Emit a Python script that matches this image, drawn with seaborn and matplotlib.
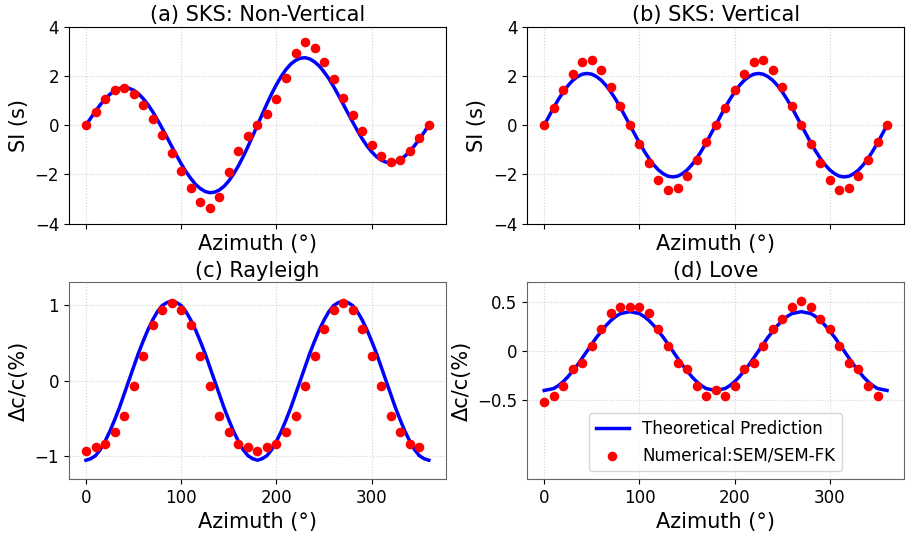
import matplotlib
matplotlib.use('Agg')
import matplotlib.pyplot as plt
import seaborn as sns
import pandas as pd

# Azimuths (deg)
az_curve = list(range(0, 361, 5))
az_sks = list(range(0, 361, 10))
az_surf = list(range(0, 351, 10))

# (a) SKS non-vertical
sks_nv_theory = [0.00, 0.29, 0.57, 0.83, 1.06, 1.25, 1.40, 1.49, 1.53, 1.50, 1.42, 1.28, 1.08,
                 0.84, 0.55, 0.22, -0.13, -0.49, -0.86, -1.22, -1.57, -1.89, -2.16, -2.40, -2.57,
                 -2.69, -2.74, -2.72, -2.63, -2.48, -2.26, -1.98, -1.65, -1.28, -0.87, -0.44, 0.00,
                 0.44, 0.87, 1.28, 1.65, 1.98, 2.26, 2.48, 2.63, 2.72, 2.74, 2.69, 2.57,
                 2.40, 2.16, 1.89, 1.57, 1.22, 0.86, 0.49, 0.13, -0.22, -0.55, -0.84, -1.08,
                 -1.28, -1.42, -1.50, -1.53, -1.49, -1.40, -1.25, -1.06, -0.83, -0.57, -0.29, 0.00]
sks_nv_sem = [0.0, 0.55, 1.06, 1.44, 1.51, 1.28, 0.82, 0.26, -0.39, -1.11, -1.85, -2.56, -3.13,
              -3.36, -2.91, -1.91, -1.05, -0.44, 0.01, 0.44, 1.05, 1.93, 2.92, 3.38, 3.14, 2.57,
              1.87, 1.12, 0.40, -0.24, -0.82, -1.27, -1.51, -1.42, -1.05, -0.53, 0.0]

# (b) SKS vertical
sks_v_theory = [0.00, 0.36, 0.72, 1.05, 1.35, 1.61, 1.82, 1.97, 2.07, 2.10, 2.07, 1.97, 1.82,
                1.61, 1.35, 1.05, 0.72, 0.36, 0.00,
                -0.36, -0.72, -1.05, -1.35, -1.61, -1.82, -1.97, -2.07, -2.10, -2.07, -1.97,
                -1.82, -1.61, -1.35, -1.05, -0.72, -0.36, 0.00,
                0.36, 0.72, 1.05, 1.35, 1.61, 1.82, 1.97, 2.07, 2.10, 2.07, 1.97, 1.82,
                1.61, 1.35, 1.05, 0.72, 0.36, 0.00,
                -0.36, -0.72, -1.05, -1.35, -1.61, -1.82, -1.97, -2.07, -2.10, -2.07, -1.97,
                -1.82, -1.61, -1.35, -1.05, -0.72, -0.36, 0.00]
sks_v_sem = [0.0, 0.70, 1.41, 2.09, 2.56, 2.63, 2.23, 1.54, 0.78, 0.0, -0.78, -1.54, -2.23,
             -2.62, -2.55, -2.07, -1.41, -0.70, 0.0, 0.70, 1.41, 2.09, 2.56, 2.63, 2.23, 1.54,
             0.78, 0.0, -0.78, -1.54, -2.23, -2.62, -2.55, -2.07, -1.41, -0.70, 0.0]

# (c) Rayleigh
ray_theory = [-1.05, -1.03, -0.99, -0.91, -0.80, -0.67, -0.52, -0.36, -0.18, 0.00, 0.18, 0.36,
              0.52, 0.67, 0.80, 0.91, 0.99, 1.03, 1.05,
              1.03, 0.99, 0.91, 0.80, 0.67, 0.52, 0.36, 0.18, 0.00, -0.18, -0.36, -0.52, -0.67,
              -0.80, -0.91, -0.99, -1.03, -1.05,
              -1.03, -0.99, -0.91, -0.80, -0.67, -0.52, -0.36, -0.18, 0.00, 0.18, 0.36,
              0.52, 0.67, 0.80, 0.91, 0.99, 1.03, 1.05,
              1.03, 0.99, 0.91, 0.80, 0.67, 0.52, 0.36, 0.18, 0.00, -0.18, -0.36, -0.52, -0.67,
              -0.80, -0.91, -0.99, -1.03, -1.05]
ray_sem = [-0.93, -0.87, -0.83, -0.68, -0.47, -0.07, 0.33, 0.73, 0.93, 1.03, 0.93, 0.73, 0.33,
           -0.07, -0.47, -0.68, -0.83, -0.87, -0.93, -0.87, -0.83, -0.68, -0.47, -0.07, 0.33,
           0.68, 0.93, 1.03, 0.93, 0.68, 0.33, -0.07, -0.47, -0.68, -0.83, -0.87]

# (d) Love
love_theory = [-0.40, -0.39, -0.38, -0.35, -0.31, -0.26, -0.20, -0.14, -0.07, 0.00, 0.07, 0.14,
               0.20, 0.26, 0.31, 0.35, 0.38, 0.39, 0.40,
               0.39, 0.38, 0.35, 0.31, 0.26, 0.20, 0.14, 0.07, 0.00, -0.07, -0.14, -0.20, -0.26,
               -0.31, -0.35, -0.38, -0.39, -0.40,
               -0.39, -0.38, -0.35, -0.31, -0.26, -0.20, -0.14, -0.07, 0.00, 0.07, 0.14,
               0.20, 0.26, 0.31, 0.35, 0.38, 0.39, 0.40,
               0.39, 0.38, 0.35, 0.31, 0.26, 0.20, 0.14, 0.07, 0.00, -0.07, -0.14, -0.20, -0.26,
               -0.31, -0.35, -0.38, -0.39, -0.40]
love_sem = [-0.52, -0.46, -0.35, -0.18, -0.12, 0.05, 0.22, 0.39, 0.45, 0.45, 0.45, 0.39, 0.22,
            0.05, -0.12, -0.18, -0.35, -0.46, -0.40, -0.46, -0.35, -0.18, -0.12, 0.05, 0.22,
            0.33, 0.45, 0.51, 0.45, 0.33, 0.22, 0.05, -0.12, -0.18, -0.35, -0.46]

titles = ['(a) SKS: Non-Vertical', '(b) SKS: Vertical', '(c) Rayleigh', '(d) Love']
ylabels = ['SI (s)', 'SI (s)', 'Δc/c(%)', 'Δc/c(%)']

panels = [
    (sks_nv_theory, az_sks, sks_nv_sem),
    (sks_v_theory, az_sks, sks_v_sem),
    (ray_theory, az_surf, ray_sem),
    (love_theory, az_surf, love_sem),
]

fig, axes = plt.subplots(2, 2, figsize=(9.06, 5.33), dpi=100)
fig.subplots_adjust(left=0.076, right=0.998, top=0.950, bottom=0.101, wspace=0.215, hspace=0.296)

for i, ax in enumerate(axes.flat):
    theory, az_pts, sem = panels[i]
    curve = pd.DataFrame({'az': az_curve, 'val': theory})
    pts = pd.DataFrame({'az': az_pts, 'val': sem})
    sns.lineplot(data=curve, x='az', y='val', ax=ax, color='blue', linewidth=2.5,
                 sort=False, label='Theoretical Prediction', zorder=2)
    sns.scatterplot(data=pts, x='az', y='val', ax=ax, color='red', s=48, linewidth=0,
                    label='Numerical:SEM/SEM-FK', zorder=3)
    ax.set_title(titles[i], fontsize=15, pad=4)
    ax.set_ylabel(ylabels[i], fontsize=15)
    ax.set_xlabel('Azimuth (°)', fontsize=15)
    ax.tick_params(labelsize=12)
    ax.set_xticks([0, 100, 200, 300])
    ax.grid(True, linestyle=':', color='lightgray', linewidth=0.8)
    ax.set_axisbelow(True)
    if i < 2:
        ax.set_ylim(-4, 4)
        ax.set_yticks([-4, -2, 0, 2, 4])
        ax.tick_params(axis='x', labelbottom=False)
    else:
        for sp in ax.spines.values():
            sp.set_color('#666666')
    if i != 3:
        ax.get_legend().remove()

axes[1, 0].set_ylim(-1.3, 1.3)
axes[1, 0].set_yticks([-1, 0, 1])
axes[1, 1].set_ylim(-1.3, 0.7)
axes[1, 1].set_yticks([-0.5, 0, 0.5])
axes[1, 1].set_yticklabels(['−0.5', '0', '0.5'])
axes[1, 1].legend(loc='lower center', fontsize=12, frameon=True)

fig.savefig('out.png', dpi=100)
